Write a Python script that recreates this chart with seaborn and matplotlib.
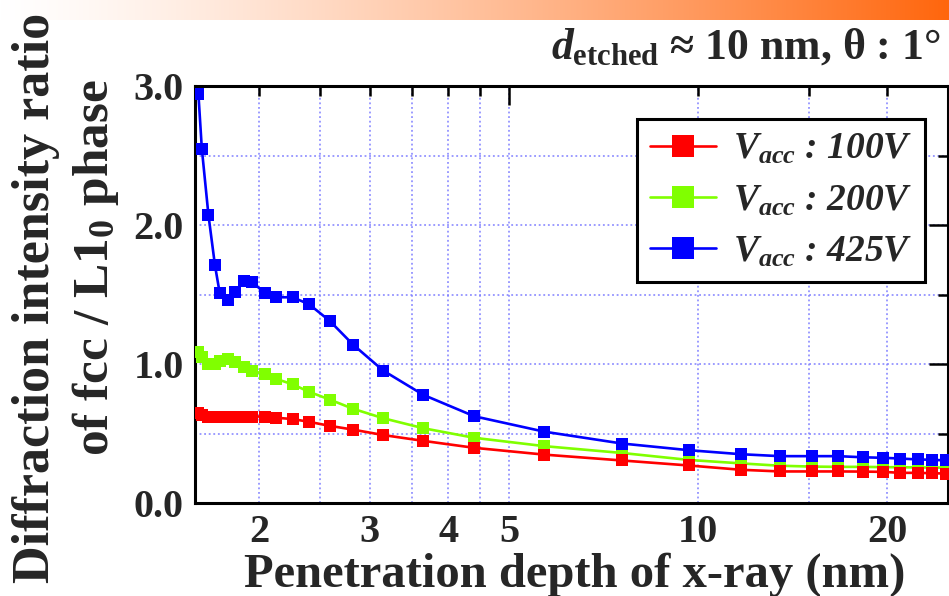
import numpy as np
import pandas as pd
import matplotlib
matplotlib.use("Agg")
import matplotlib.pyplot as plt
from matplotlib.lines import Line2D
from matplotlib.ticker import NullFormatter
import seaborn as sns

# Penetration depth of the x-ray (nm) for each measurement angle
depth_nm = [1.60, 1.62, 1.66, 1.70, 1.73, 1.78, 1.83, 1.89, 1.95, 2.04, 2.13,
            2.26, 2.40, 2.59, 2.82, 3.15, 3.65, 4.40, 5.69, 7.56, 9.66, 11.7,
            13.5, 15.2, 16.7, 18.3, 19.7, 21.0, 22.4, 23.6, 24.8]

# fcc / L1_0 diffraction intensity ratio for each accelerating voltage
ratio_100v = [0.651, 0.634, 0.622, 0.622, 0.622, 0.622, 0.622, 0.622, 0.622,
              0.622, 0.613, 0.604, 0.584, 0.555, 0.528, 0.489, 0.447, 0.397,
              0.348, 0.306, 0.270, 0.239, 0.227, 0.227, 0.227, 0.226, 0.224,
              0.217, 0.217, 0.214, 0.212]
ratio_200v = [1.083, 1.049, 1.003, 1.003, 1.023, 1.035, 1.011, 0.975, 0.951,
              0.927, 0.892, 0.854, 0.800, 0.744, 0.678, 0.610, 0.538, 0.469,
              0.409, 0.360, 0.310, 0.285, 0.268, 0.262, 0.260, 0.260, 0.258,
              0.257, 0.256, 0.255, 0.255]
ratio_425v = [2.94, 2.55, 2.07, 1.71, 1.51, 1.46, 1.52, 1.60, 1.59, 1.51, 1.48,
              1.48, 1.43, 1.31, 1.14, 0.953, 0.778, 0.624, 0.513, 0.428, 0.380,
              0.351, 0.337, 0.337, 0.337, 0.329, 0.325, 0.320, 0.313, 0.311,
              0.306]

voltages = ["100V", "200V", "425V"]
line_colors = ["#ff0000", "#80ff00", "#0000ff"]

x_major_ticks = [2, 3, 4, 5, 10, 20]
x_minor_ticks = [2.5, 3.5, 4.5, 15]
y_major_ticks = [0.0, 1.0, 2.0, 3.0]
y_minor_ticks = [0.5, 1.5, 2.5]

sns.set_style("white")
plt.rcParams.update({
    "font.family": ["Liberation Serif", "DejaVu Serif"],
    "font.weight": "bold",
    "mathtext.fontset": "custom",
    "mathtext.rm": "Liberation Serif:bold",
    "mathtext.it": "Liberation Serif:italic:bold",
    "mathtext.bf": "Liberation Serif:bold",
})

df = pd.DataFrame({
    "depth": depth_nm * 3,
    "ratio": ratio_100v + ratio_200v + ratio_425v,
    "Vacc": [v for v in voltages for _ in depth_nm],
})
palette = dict(zip(voltages, line_colors))

W, H = 949, 596
fig = plt.figure(figsize=(W / 100, H / 100), dpi=100)

# gradient banner along the top edge
band = fig.add_axes([0, 1 - 20 / H, 1, 20 / H])
grad = np.linspace(0, 1, 512)
start = np.array([1.0, 1.0, 1.0])
end = np.array([1.0, 0.40, 0.05])
rgb = start[None, :] * (1 - grad[:, None] ** 1.3) + end[None, :] * grad[:, None] ** 1.3
band.imshow(rgb[None, :, :], aspect="auto", extent=[0, 1, 0, 1])
band.set_axis_off()

left, right, top, bottom = 195, 948, 86, 503
ax = fig.add_axes([left / W, 1 - bottom / H, (right - left) / W, (bottom - top) / H])

# green first so red and blue sit on top of it
sns.lineplot(data=df, x="depth", y="ratio", hue="Vacc",
             hue_order=["200V", "100V", "425V"], palette=palette,
             marker="s", markersize=8, markeredgewidth=0, linewidth=1.9,
             estimator=None, sort=False, legend=False, ax=ax, zorder=3)

ax.set_xscale("log")
ax.set_xlim(1.58, 25)
ax.set_ylim(0, 3.0)
ax.set_xticks(x_major_ticks)
ax.set_xticklabels([str(v) for v in x_major_ticks])
ax.set_xticks(x_minor_ticks, minor=True)
ax.xaxis.set_minor_formatter(NullFormatter())
ax.set_yticks(y_major_ticks)
ax.set_yticklabels([f"{v:.1f}" for v in y_major_ticks])
ax.set_yticks(y_minor_ticks, minor=True)

ax.grid(True, which="both", color="#8080ff", linestyle=(0, (1.2, 1.8)), linewidth=1.1)
ax.set_axisbelow(True)

for s in ax.spines.values():
    s.set_color("black")
    s.set_linewidth(2.2)

ax.tick_params(which="both", direction="in", top=True, right=True,
               width=1.8, color="black", labelsize=29)
ax.tick_params(axis="x", which="both", length=7, pad=8)
ax.tick_params(axis="y", which="major", length=14, pad=8)
ax.tick_params(axis="y", which="minor", length=7)
# the 5 nm tick is drawn longer
for t in ax.xaxis.get_major_ticks():
    if abs(t.get_loc() - 5) < 1e-9:
        t.tick1line.set_markersize(14)
        t.tick2line.set_markersize(14)

ax.set_xlabel("")
ax.set_ylabel("")

fig.text(575 / W, 1 - 587 / H, "Penetration depth of x-ray (nm)",
         ha="center", va="baseline", fontsize=35, fontweight="bold")
fig.text(36 / W, 1 - 298 / H, "Diffraction intensity ratio",
         ha="center", va="center", rotation=90, fontsize=37.5, fontweight="bold")
fig.text(96 / W, 1 - 268 / H, "of fcc / L1$_0$ phase",
         ha="center", va="center", rotation=90, fontsize=37, fontweight="bold")
fig.text(941 / W, 1 - 59 / H, r"$d_{\mathrm{etched}}$ ≈ 10 nm, θ : 1°",
         ha="right", va="baseline", fontsize=31.5, fontweight="bold")

handles = [Line2D([], [], color=c, marker="s", markersize=16, markeredgewidth=0,
                  linewidth=1.9) for c in line_colors]
labels = [rf"$V_{{acc}}$ : {v}" for v in voltages]
leg = ax.legend(handles, labels, loc="upper left", bbox_to_anchor=(0.587, 0.921),
                frameon=True, fancybox=False, framealpha=1, edgecolor="black",
                handlelength=1.75, handletextpad=0.45, labelspacing=0.43,
                borderpad=0.35, borderaxespad=0,
                prop={"family": "Liberation Serif", "weight": "bold",
                      "style": "italic", "size": 27})
leg.get_frame().set_linewidth(2.2)
leg.set_zorder(10)

fig.savefig("out.png", dpi=100)
